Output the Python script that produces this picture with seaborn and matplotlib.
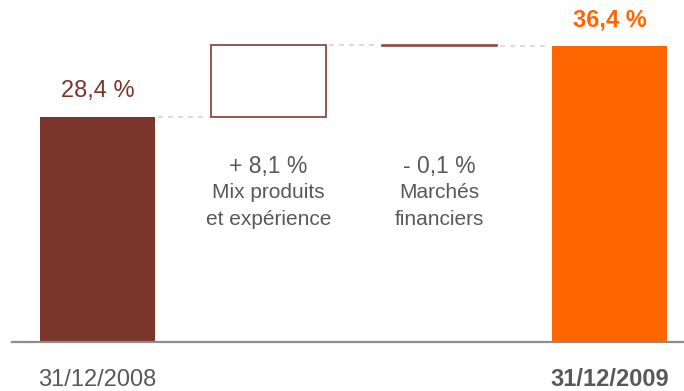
import matplotlib
matplotlib.use("Agg")
import matplotlib.pyplot as plt
import seaborn as sns
import pandas as pd

# Waterfall steps of the rate between the two closing dates
categories = ["31/12/2008", "Mix produits\net expérience", "Marchés\nfinanciers", "31/12/2009"]
start_value = 28.4
deltas = [8.1, -0.1]
end_value = 36.4

BROWN = "#7b362b"
BOX_EDGE = "#8c4a42"
ORANGE = "#ff6600"
GREY = "#595959"
CONNECTOR = "#d6d6d6"

sns.set_theme(style="white")
plt.rcParams["font.family"] = ["Liberation Sans", "DejaVu Sans"]


def fmt(v, signed=False):
    s = f"{abs(v):.1f}".replace(".", ",") + " %"
    if signed:
        s = ("+ " if v >= 0 else "- ") + s
    return s


fig = plt.figure(figsize=(6.84, 3.91), dpi=100)
ax = fig.add_axes([12 / 684, 49 / 391, 672 / 684, 342 / 391])

bar_w = 0.673
hw = bar_w / 2

# Opening and closing totals
totals = pd.DataFrame({"etape": [categories[0], categories[3]],
                       "taux": [start_value, end_value]})
sns.barplot(data=totals, x="etape", y="taux", order=categories, hue="etape",
            palette={categories[0]: BROWN, categories[3]: ORANGE},
            width=bar_w, saturation=1, legend=False, ax=ax,
            edgecolor="none", linewidth=0)

# Floating steps
level = start_value
tops = []
for i, d in enumerate(deltas, start=1):
    bottom = level + min(d, 0)
    if d >= 0:
        ax.bar(i, d, bottom=bottom, width=bar_w, facecolor="white",
               edgecolor=BOX_EDGE, linewidth=1.3, zorder=3)
    else:
        ax.bar(i, -d, bottom=bottom, width=bar_w, facecolor=BOX_EDGE,
               edgecolor=BOX_EDGE, linewidth=1.2, zorder=3)
    tops.append(level + max(d, 0))
    level += d

# Dashed connectors between consecutive steps
conn_levels = [start_value, tops[1], end_value]
for i, lvl in enumerate(conn_levels):
    ax.plot([i + hw + 0.02, i + 1 - hw - 0.02], [lvl, lvl], color=CONNECTOR,
            lw=1.2, ls=(0, (3, 3)), zorder=2)

ax.set_xlim(-0.5, 3.434)
ax.set_ylim(3.05, 41.58)
ax.set_xticks([])
ax.set_yticks([])
ax.set_xlabel("")
ax.set_ylabel("")
for side in ["top", "left", "right"]:
    ax.spines[side].set_visible(False)
ax.spines["bottom"].set_color("#8c8c8c")
ax.spines["bottom"].set_linewidth(1.6)
ax.spines["bottom"].set_zorder(5)

# Value labels on the totals
ax.annotate(fmt(start_value), (0, start_value), xytext=(0, 18.5),
            textcoords="offset points", ha="center", va="center",
            fontsize=17, color=BROWN)
ax.annotate(fmt(end_value), (3, end_value), xytext=(0, 19),
            textcoords="offset points", ha="center", va="center",
            fontsize=17, color=ORANGE, fontweight="bold")

# Labels of the intermediate steps
xt = ax.get_xaxis_transform()
for i, d in enumerate(deltas, start=1):
    ax.text(i, 0.512, fmt(d, signed=True), transform=xt, ha="center",
            va="center", fontsize=16.5, color=GREY)
    for k, line in enumerate(categories[i].split("\n")):
        ax.text(i, 0.4357 - k * 0.0761, line, transform=xt, ha="center",
                va="center", fontsize=15, color=GREY)

# Date labels under the baseline
ax.text(0, -0.11, categories[0], transform=xt, ha="center", va="center",
        fontsize=17, color=GREY)
ax.text(3, -0.11, categories[3], transform=xt, ha="center", va="center",
        fontsize=17, color=GREY, fontweight="bold")

fig.savefig("out.png", dpi=100, facecolor="white")
